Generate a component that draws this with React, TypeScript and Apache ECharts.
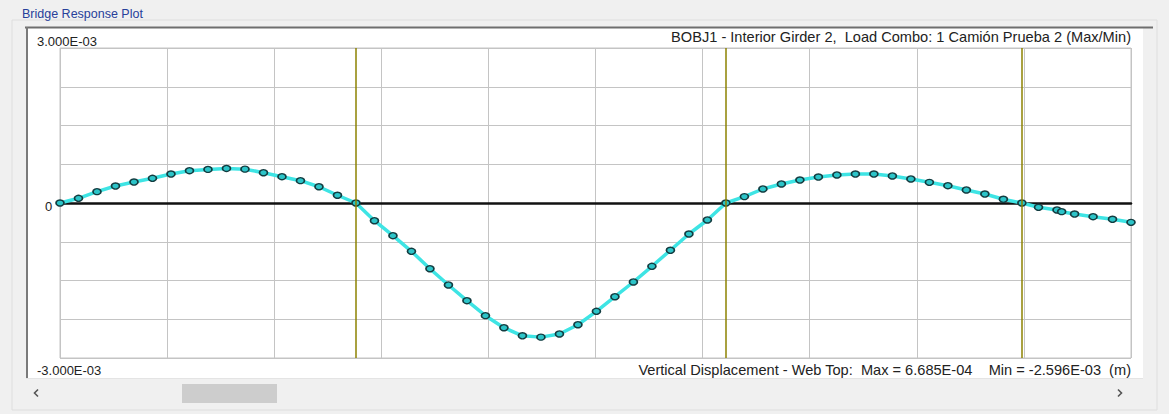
import React, { useEffect, useRef } from "react";
import * as echarts from "echarts";

// Stations along the girder (m) and vertical displacement (x 1e-4 m)
const stations = [
  0, 1, 2, 3, 4, 5, 6, 7, 8, 9, 10, 11, 12, 13, 14, 15, 16,
  17, 18, 19, 20, 21, 22, 23, 24, 25, 26, 27, 28, 29, 30, 31, 32, 33, 34, 35, 36,
  37, 38, 39, 40, 41, 42, 43, 44, 45, 46, 47, 48, 49, 50, 51, 52,
  52.9, 53.9, 54.15, 54.85, 55.85, 56.9, 57.9,
];
const displacementE4 = [
  0, 0.91, 2.19, 3.29, 4.06, 4.78, 5.61, 6.25, 6.5, 6.685, 6.55, 5.86, 5.09, 4.32, 3.15, 1.5, 0,
  -3.43, -6.33, -9.35, -12.72, -15.87, -18.91, -21.81, -24.14, -25.7, -25.96, -25.35, -23.56, -20.96, -18.14, -15.29, -12.25, -9.15, -6.0, -3.29, 0,
  1.24, 2.71, 3.68, 4.45, 5.03, 5.42, 5.61, 5.61, 5.23, 4.65, 4.0, 3.35, 2.52, 1.74, 0.72, 0,
  -0.83, -1.35, -1.68, -2.13, -2.65, -3.15, -3.74,
];
const supports = [16, 36, 52];
const yLabelTicks = [-3e-3, 0, 3e-3];

const panelTitle = "Bridge Response Plot";
const plotTitle = "BOBJ1 - Interior Girder 2,  Load Combo: 1 Camión Prueba 2 (Max/Min)";
const quantity = "Vertical Displacement - Web Top:";
const unit = "(m)";

const FONT = "'Liberation Sans', Arial, sans-serif";

function fmtE(v: number): string {
  if (Math.abs(v) < 1e-12) return "0";
  const s = Math.abs(v).toExponential(3);
  const [m, e] = s.split("e");
  const en = parseInt(e, 10);
  const ee = String(Math.abs(en)).padStart(2, "0");
  return (v < 0 ? "-" : "") + m + "E" + (en < 0 ? "-" : "+") + ee;
}

export default function App() {
  const ref = useRef<HTMLDivElement>(null);
  useEffect(() => {
    document.body.style.margin = "0";
    const chart = echarts.init(ref.current!, undefined, { renderer: "svg" });
    const values = displacementE4.map((d) => d * 1e-4);
    const data = stations.map((s, i) => [s, values[i]]);
    const vmax = Math.max(...values);
    const vmin = Math.min(...values);
    const footer = `${quantity}  Max = ${fmtE(vmax)}    Min = ${fmtE(vmin)}  ${unit}`;

    chart.setOption({
      animation: false,
      backgroundColor: "#f0f0f0",
      textStyle: { fontFamily: FONT },
      grid: {
        left: 60,
        right: 38,
        top: 48,
        bottom: 56,
        show: true,
        borderColor: "#c4c4c4",
        borderWidth: 1,
        backgroundColor: "transparent",
      },
      xAxis: {
        type: "value",
        min: 0,
        max: 57.9,
        interval: 5.79,
        axisLabel: { show: false },
        axisTick: { show: false },
        axisLine: { show: true, onZero: true, lineStyle: { color: "#111", width: 2.5 } },
        splitLine: { show: true, lineStyle: { color: "#c4c4c4", width: 1 } },
      },
      yAxis: {
        type: "value",
        min: -3e-3,
        max: 3e-3,
        interval: 0.75e-3,
        axisLine: { show: false },
        axisTick: { show: false },
        splitLine: { show: true, lineStyle: { color: "#c4c4c4", width: 1 } },
        axisLabel: {
          align: "left",
          margin: 23,
          fontFamily: FONT,
          fontSize: 13,
          color: "#222",
          formatter: (v: number) => {
            const hit = yLabelTicks.find((t) => Math.abs(t - v) < 1e-9);
            if (hit === undefined) return "";
            if (hit > 0) return `{top|${fmtE(hit)}}`;
            if (hit < 0) return `{bot|${fmtE(hit)}}`;
            return `{zero|${fmtE(hit)}}`;
          },
          rich: {
            top: { padding: [0, 0, 14, 0], fontSize: 13, color: "#222", fontFamily: FONT },
            bot: { padding: [24, 0, 0, 0], fontSize: 13, color: "#222", fontFamily: FONT },
            zero: { padding: [6, 0, 0, 8], fontSize: 13, color: "#222", fontFamily: FONT },
          },
        },
      },
      series: [
        {
          type: "line",
          data,
          z: 3,
          symbol: "circle",
          symbolSize: [8, 6],
          lineStyle: { color: "#3ee4e4", width: 3.5 },
          itemStyle: { color: "#2cc4c8", borderColor: "#123c40", borderWidth: 1.5 },
          markLine: {
            silent: true,
            symbol: "none",
            label: { show: false },
            lineStyle: { color: "#8c8200", width: 1.5, type: "solid" },
            data: supports.map((s) => ({ xAxis: s })),
          },
        },
      ],
      graphic: [
        {
          type: "rect",
          z: -10,
          shape: { x: 12, y: 20, width: 1145, height: 390 },
          style: { fill: "none", stroke: "#dedede", lineWidth: 1 },
        },
        {
          type: "rect",
          z: -9,
          shape: { x: 26, y: 27, width: 1117, height: 351 },
          style: { fill: "#ffffff" },
        },
        {
          type: "line",
          z: -8,
          shape: { x1: 25, y1: 27.5, x2: 1153, y2: 27.5 },
          style: { stroke: "#6e6e6e", lineWidth: 2 },
        },
        {
          type: "line",
          z: -8,
          shape: { x1: 27, y1: 27, x2: 27, y2: 378 },
          style: { stroke: "#7a7a7a", lineWidth: 2 },
        },
        {
          type: "line",
          z: -8,
          shape: { x1: 26, y1: 378.5, x2: 1143, y2: 378.5 },
          style: { stroke: "#e4e4e4", lineWidth: 1 },
        },
        {
          type: "text",
          x: 22,
          y: 14,
          style: {
            text: panelTitle,
            fill: "#27409a",
            font: `12.5px ${FONT}`,
            verticalAlign: "middle",
            align: "left",
          },
        },
        {
          type: "text",
          x: 1131,
          y: 37,
          style: {
            text: plotTitle,
            fill: "#222",
            font: `14.6px ${FONT}`,
            verticalAlign: "middle",
            align: "right",
          },
        },
        {
          type: "text",
          x: 1131,
          y: 370,
          style: {
            text: footer,
            fill: "#222",
            font: `14.6px ${FONT}`,
            verticalAlign: "middle",
            align: "right",
          },
        },
        {
          type: "rect",
          shape: { x: 182, y: 384, width: 95, height: 19 },
          style: { fill: "#cdcdcd" },
        },
        {
          type: "polyline",
          shape: { points: [[38, 389.5], [34.5, 393], [38, 396.5]] },
          style: { stroke: "#555", lineWidth: 1.6, fill: "none" },
        },
        {
          type: "polyline",
          shape: { points: [[1118, 389.5], [1121.5, 393], [1118, 396.5]] },
          style: { stroke: "#555", lineWidth: 1.6, fill: "none" },
        },
      ],
    });
    return () => chart.dispose();
  }, []);
  return <div ref={ref} style={{ width: 1169, height: 414 }} />;
}
